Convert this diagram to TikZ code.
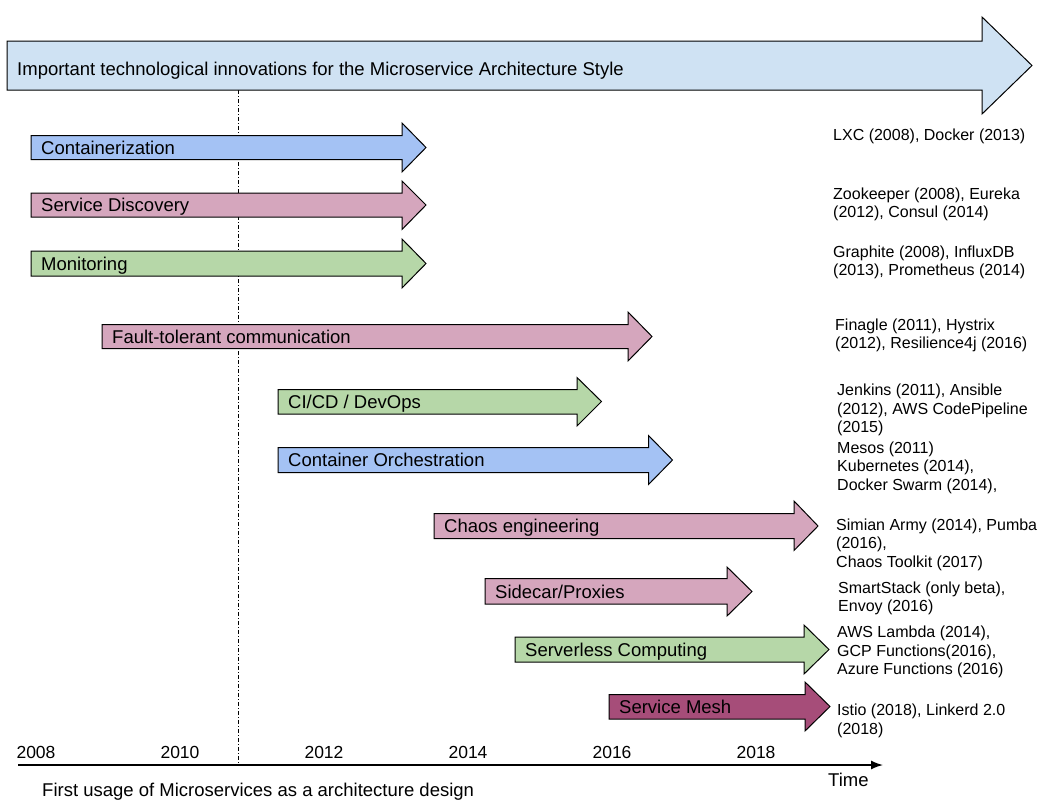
\documentclass[tikz,border=0pt]{standalone}
\usepackage{fontspec}
\setmainfont{Liberation Sans}
\usetikzlibrary{arrows.meta}

\tikzset{
  techarrow/.style={fill=#1, draw=black, line width=1pt, line join=miter},
  arrowlabel/.style={anchor=base west, inner sep=0pt, font=\fontsize{18.5}{21}\selectfont},
  toollist/.style={anchor=base west, inner sep=0pt, align=left, font=\fontsize{16}{18.5}\selectfont},
  yearlabel/.style={anchor=base, inner sep=0pt, font=\fontsize{17.5}{20}\selectfont},
}

\begin{document}
\begin{tikzpicture}[x=1pt,y=-1pt]
    % Define colors
    \definecolor{headblue}{HTML}{CFE2F3}
    \definecolor{contblue}{HTML}{A4C2F4}
    \definecolor{rosepink}{HTML}{D5A6BD}
    \definecolor{softgreen}{HTML}{B6D7A8}
    \definecolor{meshpurple}{HTML}{A64D79}
    \useasboundingbox (0,0) rectangle (1041,811);

    % First usage marker (behind the arrows)
    \coordinate (firstuse) at (238,90);
    \coordinate (firstaxis) at (238,765);
    \draw[line width=0.9pt, dash pattern=on 4pt off 2pt on 1pt off 2pt] (firstuse) -- (firstaxis);

    % Title arrow
    \filldraw[techarrow=headblue] (7,41) -- (982,41) -- (982,17) -- (1032,65.5) -- (982,114) -- (982,90) -- (7,90) -- cycle;
    \node[arrowlabel] (title) at (17,75) {Important technological innovations for the Microservice Architecture Style};

    % Innovation arrows
    \filldraw[techarrow=contblue] (31,135.5) -- (402,135.5) -- (402,123) -- (426,147.5) -- (402,172) -- (402,159.5) -- (31,159.5) -- cycle;
    \node[arrowlabel] (containerization) at (41,154) {Containerization};

    \filldraw[techarrow=rosepink] (31,193) -- (402,193) -- (402,181) -- (426,205) -- (402,229.5) -- (402,217) -- (31,217) -- cycle;
    \node[arrowlabel] (discovery) at (41,211.5) {Service Discovery};

    \filldraw[techarrow=softgreen] (31,251) -- (402,251) -- (402,239) -- (426,263.5) -- (402,288) -- (402,276) -- (31,276) -- cycle;
    \node[arrowlabel] (monitoring) at (41,270) {Monitoring};

    \filldraw[techarrow=rosepink] (102,324.5) -- (628,324.5) -- (628,312) -- (652,336.5) -- (628,361) -- (628,348.5) -- (102,348.5) -- cycle;
    \node[arrowlabel] (faulttolerant) at (112,343) {Fault-tolerant communication};

    \filldraw[techarrow=softgreen] (278,389.5) -- (577,389.5) -- (577,377.5) -- (601.5,401.5) -- (577,426) -- (577,414) -- (278,414) -- cycle;
    \node[arrowlabel] (cicd) at (288,408) {CI/CD / DevOps};

    \filldraw[techarrow=contblue] (278,447.5) -- (648.5,447.5) -- (648.5,435.5) -- (672.5,460) -- (648.5,484.5) -- (648.5,472.5) -- (278,472.5) -- cycle;
    \node[arrowlabel] (orchestration) at (288,466.5) {Container Orchestration};

    \filldraw[techarrow=rosepink] (434,513.5) -- (794,513.5) -- (794,501) -- (818,526) -- (794,550.5) -- (794,538.5) -- (434,538.5) -- cycle;
    \node[arrowlabel] (chaos) at (444,532.5) {Chaos engineering};

    \filldraw[techarrow=rosepink] (485,578.5) -- (727,578.5) -- (727,567) -- (752,591.5) -- (727,616) -- (727,604) -- (485,604) -- cycle;
    \node[arrowlabel] (sidecar) at (495,598) {Sidecar/Proxies};

    \filldraw[techarrow=softgreen] (515,637) -- (804,637) -- (804,625) -- (829,649.5) -- (804,674) -- (804,662) -- (515,662) -- cycle;
    \node[arrowlabel] (serverless) at (525,656) {Serverless Computing};

    \filldraw[techarrow=meshpurple] (609,694.5) -- (805,694.5) -- (805,682) -- (830,706.5) -- (805,731) -- (805,719) -- (609,719) -- cycle;
    \node[arrowlabel] (mesh) at (619,713) {Service Mesh};

    % Tools per innovation (anchored at the baseline of the last line)
    \node[toollist] (lxc) at (833,140.5) {LXC (2008), Docker (2013)};
    \node[toollist] (zookeeper) at (833,217.5) {Zookeeper (2008), Eureka\\(2012), Consul (2014)};
    \node[toollist] (graphite) at (833,275.5) {Graphite (2008), InfluxDB\\(2013), Prometheus (2014)};
    \node[toollist] (finagle) at (835,348.5) {Finagle (2011), Hystrix\\(2012), Resilience4j (2016)};
    \node[toollist] (jenkins) at (837,432.5) {Jenkins (2011), Ansible\\(2012), AWS CodePipeline\\(2015)};
    \node[toollist] (mesos) at (837,490) {Mesos (2011)\\Kubernetes (2014),\\Docker Swarm (2014),};
    \node[toollist] (simian) at (836,567) {Simian Army (2014), Pumba\\(2016),\\Chaos Toolkit (2017)};
    \node[toollist] (smartstack) at (838,611.5) {SmartStack (only beta),\\Envoy (2016)};
    \node[toollist] (lambda) at (837,674.5) {AWS Lambda (2014),\\GCP Functions(2016),\\Azure Functions (2016)};
    \node[toollist] (istio) at (837,734) {Istio (2018), Linkerd 2.0\\(2018)};

    % Time axis
    \coordinate (axisstart) at (18,765);
    \coordinate (axisend) at (883,765);
    \draw[line width=1.5pt, -{Latex[length=12pt,width=9pt]}] (axisstart) -- (axisend);
    \foreach \yr [count=\i from 0] in {2008,2010,2012,2014,2016,2018}
        \node[yearlabel] (y\yr) at (36+144*\i,758) {\yr};
    \node[arrowlabel] (time) at (828,786) {Time};
    \node[arrowlabel] (firstlabel) at (42,796) {First usage of Microservices as a architecture design};
\end{tikzpicture}
\end{document}
